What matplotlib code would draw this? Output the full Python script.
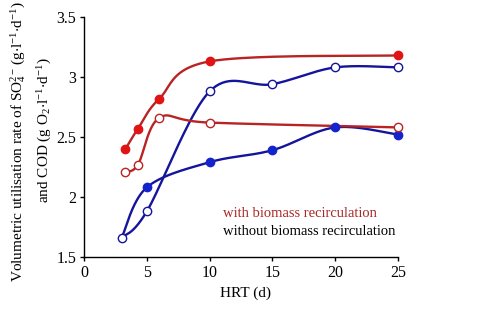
import numpy as np
import matplotlib
matplotlib.use("Agg")
import matplotlib.pyplot as plt

plt.rcParams['font.family'] = ['Liberation Serif', 'DejaVu Serif']
plt.rcParams['mathtext.fontset'] = 'custom'
plt.rcParams['mathtext.rm'] = 'Liberation Serif'
plt.rcParams['mathtext.it'] = 'Liberation Serif:italic'

# HRT (d) and volumetric utilisation rates
hrt_with = [3.3, 4.3, 6, 10, 25]
so4_with = [2.40, 2.57, 2.82, 3.13, 3.18]
cod_with = [2.21, 2.27, 2.66, 2.62, 2.58]

hrt_without = [3, 5, 10, 15, 20, 25]
so4_without = [1.66, 1.88, 2.88, 2.94, 3.08, 3.08]
cod_without = [1.66, 2.08, 2.29, 2.39, 2.58, 2.52]

x_ticks = [0, 5, 10, 15, 20, 25]
y_ticks = [1.5, 2, 2.5, 3, 3.5]

RED_LINE = '#b82424'
RED_MARK = '#e01414'
BLUE_LINE = '#14149c'
BLUE_MARK = '#1424cc'


def smooth(xs, ys, n=40):
    """Bezier smoothing through every point (tension 1/6)."""
    p = np.column_stack([xs, ys]).astype(float)
    pts = np.vstack([p[0], p, p[-1]])
    out = []
    t = np.linspace(0, 1, n)[:, None]
    for i in range(1, len(pts) - 2):
        p0, p1, p2, p3 = pts[i - 1], pts[i], pts[i + 1], pts[i + 2]
        c1 = p1 + (p2 - p0) / 6
        c2 = p2 - (p3 - p1) / 6
        seg = ((1 - t) ** 3) * p1 + 3 * ((1 - t) ** 2) * t * c1 \
            + 3 * (1 - t) * t ** 2 * c2 + t ** 3 * p2
        out.append(seg)
    seg = np.vstack(out)
    return seg[:, 0], seg[:, 1]


fig = plt.figure(figsize=(4.83, 3.35), dpi=100)
ax = fig.add_axes([84 / 483, 1 - 257 / 335, 314 / 483, 240 / 335])

series = [
    (hrt_without, cod_without, BLUE_LINE, BLUE_MARK, True),
    (hrt_without, so4_without, BLUE_LINE, BLUE_MARK, False),
    (hrt_with, cod_with, RED_LINE, RED_MARK, False),
    (hrt_with, so4_with, RED_LINE, RED_MARK, True),
]
for xs, ys, lc, mc, filled in series:
    sx, sy = smooth(xs, ys)
    ax.plot(sx, sy, color=lc, lw=1.7, zorder=2, clip_on=False)
for xs, ys, lc, mc, filled in series:
    if filled:
        # the shared first point of the blue series is shown as open
        start = 1 if xs is hrt_without else 0
        ax.plot(xs[start:], ys[start:], ls='none', marker='o', ms=6,
                mfc=mc, mec=mc, zorder=3, clip_on=False)
    else:
        ax.plot(xs, ys, ls='none', marker='o', ms=6, mfc='white', mec=lc,
                mew=1.0, zorder=4, clip_on=False)

ax.set_xlim(0, 25)
ax.set_ylim(1.5, 3.5)
ax.set_xticks(x_ticks)
ax.set_xticklabels([str(v) for v in x_ticks])
ax.set_yticks(y_ticks)
ax.set_yticklabels(['1.5', '2', '2.5', '3', '3.5'])
ax.spines['top'].set_visible(False)
ax.spines['right'].set_visible(False)
for s in ('left', 'bottom'):
    ax.spines[s].set_linewidth(1.0)
ax.tick_params(direction='out', length=3, width=1.0, labelsize=11.5, pad=2.5)

ax.text(11.1, 1.865, 'with biomass recirculation', color='#a82828',
        fontsize=10.5, va='center', ha='left')
ax.text(11.1, 1.715, 'without biomass recirculation', color='black',
        fontsize=10.5, va='center', ha='left')

fig.text(246 / 483, 1 - 293 / 335, 'HRT (d)', ha='center', va='center',
         fontsize=11)
fig.text(18 / 483, 1 - 142 / 335,
         r'Volumetric utilisation rate of $\mathregular{SO_4^{2-}\,(g{\cdot}l^{-1}{\cdot}d^{-1})}$',
         rotation=90, ha='center', va='center', fontsize=11)
fig.text(45 / 483, 1 - 130 / 335,
         r'and COD $\mathregular{(g\ O_2{\cdot}l^{-1}{\cdot}d^{-1})}$',
         rotation=90, ha='center', va='center', fontsize=11)

fig.savefig('out.png', dpi=100)
